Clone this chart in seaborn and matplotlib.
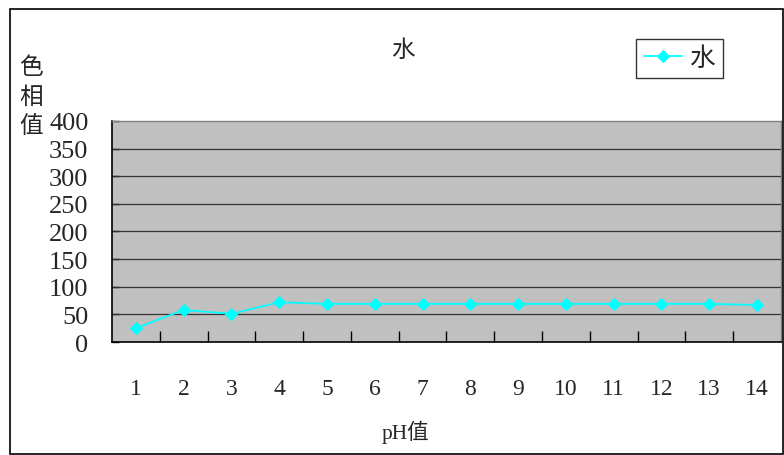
import matplotlib
matplotlib.use("Agg")
import matplotlib.pyplot as plt
from matplotlib.patches import Rectangle
from matplotlib.ticker import FixedLocator, NullFormatter
import seaborn as sns
import pandas as pd

ph_values = [1, 2, 3, 4, 5, 6, 7, 8, 9, 10, 11, 12, 13, 14]
hue_water = [25, 58, 51, 72, 69, 69, 69, 69, 69, 69, 69, 69, 69, 67]
y_ticks = [0, 50, 100, 150, 200, 250, 300, 350, 400]

sns.set_theme(style="white")
plt.rcParams["font.family"] = ["Liberation Serif", "Noto Sans CJK TC", "DejaVu Sans"]

df = pd.DataFrame({"pH": ph_values, "hue": hue_water, "series": "水"})

fig = plt.figure(figsize=(7.84, 4.56), dpi=100)
ax = fig.add_axes([0.1429, 0.2478, 0.996 - 0.1429, 0.7325 - 0.2478])
ax.set_facecolor("#c0c0c0")

sns.lineplot(data=df, x="pH", y="hue", hue="series", palette=["#00ffff"],
             marker="D", markersize=6, markeredgecolor="#00ffff",
             linewidth=1.3, ax=ax, legend=True)

ax.set_xlim(0.5, 14.5)
ax.set_ylim(0, 400)
ax.set_yticks(y_ticks)
ax.set_yticklabels([str(v) for v in y_ticks], fontsize=19)
for v in y_ticks[1:-1]:
    ax.axhline(v, color="#333333", linewidth=0.9, zorder=1)

# category separators as inward ticks, labels on minor ticks at category centres
ax.xaxis.set_major_locator(FixedLocator([i + 0.5 for i in ph_values[:-1]]))
ax.xaxis.set_major_formatter(NullFormatter())
ax.xaxis.set_minor_locator(FixedLocator(ph_values))
ax.set_xticklabels([str(v) for v in ph_values], minor=True, fontsize=17)
ax.tick_params(axis="x", which="major", direction="in", length=8, width=1, color="black", bottom=True)
ax.tick_params(axis="x", which="minor", length=0, pad=26, bottom=True)
ax.tick_params(axis="y", which="major", direction="in", length=5, width=1, color="black", left=True, pad=17)

for side in ["left", "bottom"]:
    ax.spines[side].set_color("black")
    ax.spines[side].set_linewidth(1.2)
for side in ["top", "right"]:
    ax.spines[side].set_color("#808080")
    ax.spines[side].set_linewidth(1.0)

ax.set_xlabel("")
ax.set_ylabel("")
fig.text(405 / 784, 1 - 432 / 456, "pH值", fontsize=15.5, ha="center", va="center")
fig.suptitle("水", x=403 / 784, y=1 - 51 / 456, fontsize=17, va="center")

leg = ax.legend(loc="upper left", bbox_to_anchor=(636 / 784, 1 - 40 / 456),
                bbox_transform=fig.transFigure, frameon=True, fancybox=False,
                fontsize=18.5, handlelength=1.5, borderpad=0.3, handletextpad=0.3,
                borderaxespad=0)
leg.get_frame().set_edgecolor("black")
leg.get_frame().set_linewidth(1.0)

fig.text(31 / 784, 1 - 97 / 456, "色\n相\n值", fontsize=17, ha="center", va="center",
         linespacing=1.35, family=["Noto Sans CJK TC", "DejaVu Sans"])

fig.patches.append(Rectangle((10 / 784, 1 / 456), 773 / 784, 445 / 456, transform=fig.transFigure,
                             fill=False, edgecolor="black", linewidth=1.2))

fig.savefig("out.png", dpi=100)
